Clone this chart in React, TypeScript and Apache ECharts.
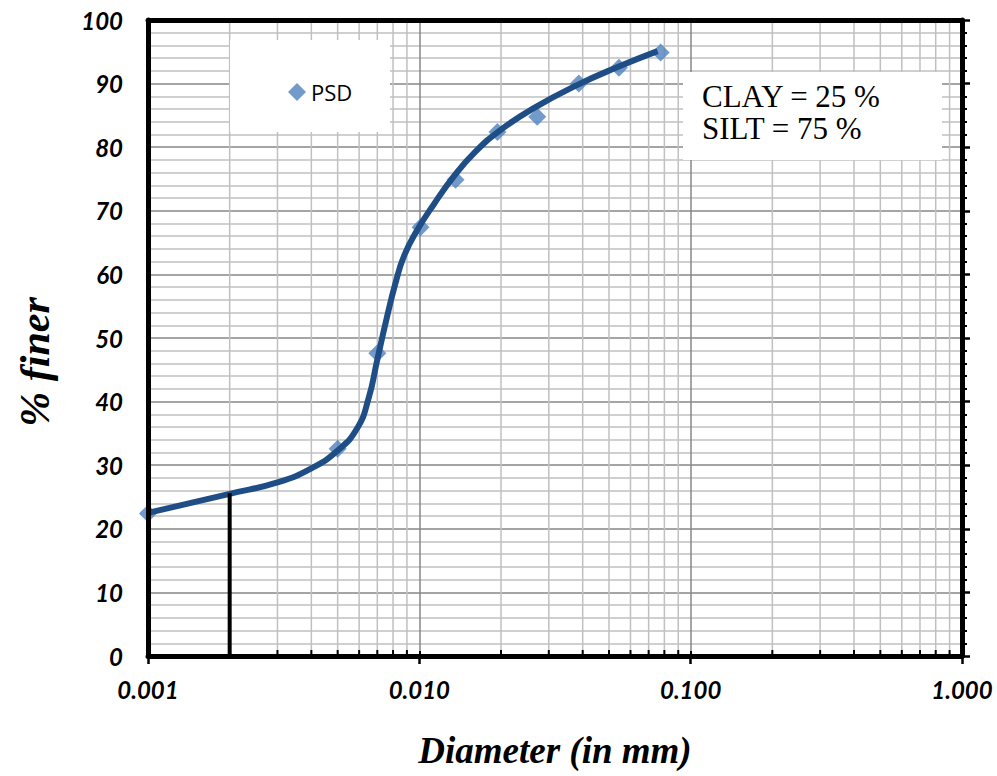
import React, { useEffect, useRef } from "react";
import * as echarts from "echarts";

// Measured particle size distribution (diamonds)
const psdDiameters = [0.001, 0.005, 0.007, 0.0101, 0.0136, 0.0194, 0.0272, 0.0387, 0.0544, 0.0775];
const psdFiner = [22.4, 32.6, 47.6, 67.4, 74.9, 82.4, 84.8, 90.0, 92.5, 94.9];

// Hand-fitted smooth gradation curve
const curveDiameters = [
  0.001, 0.002, 0.003, 0.004, 0.005, 0.0059, 0.0065, 0.007, 0.0076, 0.0082,
  0.0088, 0.0098, 0.0113, 0.0134, 0.0161, 0.0199, 0.0263, 0.0383, 0.0538, 0.0755,
];
const curveFiner = [
  22.5, 25.5, 27.3, 29.5, 32.3, 35.8, 40.5, 46.6, 53.3, 58.9,
  63.0, 66.9, 71.0, 75.4, 79.3, 82.7, 86.1, 89.8, 92.6, 95.1,
];

// Clay/silt boundary marker at 0.002 mm
const clayLineDiameters = [0.002, 0.002];
const clayLineFiner = [0, 25.6];

// Minor log grid positions
const xMinorTicks = [
  0.002, 0.003, 0.004, 0.005, 0.006, 0.007, 0.008, 0.009,
  0.02, 0.03, 0.04, 0.05, 0.06, 0.07, 0.08, 0.09,
  0.2, 0.3, 0.4, 0.5, 0.6, 0.7, 0.8, 0.9,
];

const X_MIN = 0.001;
const X_MAX = 1;
const Y_MIN = 0;
const Y_MAX = 100;
const Y_INTERVAL = 10;

const seriesName = "PSD";
const annotationLines = ["CLAY = 25 %", "SILT = 75 %"];
const xTitle = "Diameter (in mm)";
const yTitle = "% finer";

export default function App() {
  const ref = useRef<HTMLDivElement>(null);

  useEffect(() => {
    if (!ref.current) return;
    const chart = echarts.init(ref.current, null, { renderer: "svg" });

    const labelFont = {
      fontFamily: "Lato",
      fontWeight: "bold" as const,
      fontStyle: "italic" as const,
      fontSize: 24,
      color: "#000",
    };

    const logAxisBase = {
      type: "log" as const,
      logBase: 10,
      min: X_MIN,
      max: X_MAX,
      gridIndex: 0,
    };
    const valAxisBase = {
      type: "value" as const,
      min: Y_MIN,
      max: Y_MAX,
      interval: Y_INTERVAL,
      gridIndex: 0,
    };
    const frameLine = { show: true, onZero: false, lineStyle: { color: "#000", width: 5 } };

    const option: any = {
      animation: false,
      backgroundColor: "#fff",
      grid: { left: 148, right: 35, top: 20, bottom: 120, containLabel: false },
      legend: {
        data: [seriesName],
        left: 283,
        top: 76,
        icon: "diamond",
        itemWidth: 18,
        itemHeight: 18,
        itemGap: 5,
        z: 20,
        textStyle: { fontFamily: "Open Sans", fontSize: 22, color: "#000" },
      },
      xAxis: [
        {
          ...logAxisBase,
          position: "bottom",
          z: 0,
          axisLine: { show: false },
          axisTick: { show: true, inside: true, length: 5, lineStyle: { color: "#000", width: 2 } },
          axisLabel: {
            ...labelFont,
            margin: 21,
            formatter: (v: number) => v.toFixed(3),
          },
          splitLine: { show: true, lineStyle: { color: "#878787", width: 1.5 } },
          minorTick: { show: false },
          minorSplitLine: { show: false },
          name: xTitle,
          nameLocation: "middle",
          nameGap: 76,
          nameTextStyle: {
            fontFamily: "Liberation Serif",
            fontWeight: "bold",
            fontStyle: "italic",
            fontSize: 37,
            color: "#000",
          },
        },
        {
          ...logAxisBase,
          position: "bottom",
          z: 10,
          axisLine: frameLine,
          axisTick: { show: true, inside: false, length: 8, lineStyle: { color: "#000", width: 2.5 } },
          axisLabel: { show: false },
          splitLine: { show: false },
        },
        {
          ...logAxisBase,
          position: "top",
          z: 10,
          axisLine: frameLine,
          axisTick: { show: false },
          axisLabel: { show: false },
          splitLine: { show: false },
        },
      ],
      yAxis: [
        {
          ...valAxisBase,
          position: "left",
          z: 0,
          axisLine: { show: false },
          axisTick: { show: false },
          axisLabel: { ...labelFont, margin: 25 },
          splitLine: { show: true, lineStyle: { color: "#878787", width: 1.5 } },
          minorTick: { show: false, splitNumber: 5 },
          minorSplitLine: { show: true, lineStyle: { color: "#c0c0c0", width: 1.5 } },
        },
        {
          ...valAxisBase,
          position: "left",
          z: 10,
          axisLine: frameLine,
          axisTick: { show: false },
          axisLabel: { show: false },
          splitLine: { show: false },
        },
        {
          ...valAxisBase,
          position: "right",
          z: 10,
          axisLine: frameLine,
          axisTick: { show: true, inside: false, length: 8, lineStyle: { color: "#000", width: 2.5 } },
          minorTick: { show: true, splitNumber: 5, length: 5, lineStyle: { color: "#000", width: 2 } },
          axisLabel: { show: false },
          splitLine: { show: false },
        },
      ],
      series: [
        {
          type: "custom",
          name: "minorGrid",
          xAxisIndex: 0,
          yAxisIndex: 0,
          z: 1,
          silent: true,
          data: xMinorTicks.map((v) => [v, Y_MIN]),
          encode: { x: 0, y: 1 },
          renderItem: (params: any, api: any) => {
            const v = api.value(0);
            const p0 = api.coord([v, Y_MIN]);
            const p1 = api.coord([v, Y_MAX]);
            return {
              type: "line",
              shape: { x1: p0[0], y1: p0[1], x2: p1[0], y2: p1[1] },
              style: { stroke: "#c0c0c0", lineWidth: 1.5 },
            };
          },
        },
        {
          type: "custom",
          name: "minorTicks",
          xAxisIndex: 0,
          yAxisIndex: 0,
          z: 12,
          silent: true,
          data: xMinorTicks.map((v) => [v, Y_MIN]),
          encode: { x: 0, y: 1 },
          renderItem: (params: any, api: any) => {
            const v = api.value(0);
            const p0 = api.coord([v, Y_MIN]);
            return {
              type: "line",
              shape: { x1: p0[0], y1: p0[1], x2: p0[0], y2: p0[1] - 6 },
              style: { stroke: "#000", lineWidth: 2 },
            };
          },
        },
        {
          type: "scatter",
          name: seriesName,
          xAxisIndex: 0,
          yAxisIndex: 0,
          z: 3,
          symbol: "diamond",
          symbolSize: 18,
          itemStyle: { color: "#4F81BD" },
          data: psdDiameters.map((d, i) => [d, psdFiner[i]]),
        },
        {
          type: "line",
          name: "curve",
          xAxisIndex: 0,
          yAxisIndex: 0,
          z: 4,
          smooth: 0.5,
          showSymbol: false,
          symbol: "none",
          lineStyle: { color: "#1F4E86", width: 6 },
          data: curveDiameters.map((d, i) => [d, curveFiner[i]]),
        },
        {
          type: "line",
          name: "clayBoundary",
          xAxisIndex: 0,
          yAxisIndex: 0,
          z: 5,
          showSymbol: false,
          symbol: "none",
          lineStyle: { color: "#000", width: 4 },
          data: clayLineDiameters.map((d, i) => [d, clayLineFiner[i]]),
        },
      ],
      graphic: [
        {
          type: "rect",
          z: 15,
          shape: { x: 230, y: 40, width: 160, height: 92 },
          style: { fill: "#fff" },
        },
        {
          type: "rect",
          z: 15,
          shape: { x: 683, y: 72, width: 259, height: 88 },
          style: { fill: "#fff" },
        },
        {
          type: "text",
          z: 16,
          x: 702,
          y: 80,
          style: {
            text: annotationLines.join("\n"),
            fontFamily: "Liberation Serif",
            fontSize: 31,
            lineHeight: 32,
            fill: "#000",
          },
        },
        {
          type: "text",
          z: 16,
          x: 35,
          y: 362,
          rotation: Math.PI / 2,
          style: {
            text: yTitle,
            fontFamily: "Liberation Serif",
            fontWeight: "bold",
            fontStyle: "italic",
            fontSize: 42,
            fill: "#000",
            align: "center",
            verticalAlign: "middle",
          },
        },
      ],
    };

    chart.setOption(option);
    return () => chart.dispose();
  }, []);

  return (
    <div
      ref={ref}
      style={{ position: "fixed", left: 0, top: 0, width: 997, height: 776 }}
    />
  );
}
